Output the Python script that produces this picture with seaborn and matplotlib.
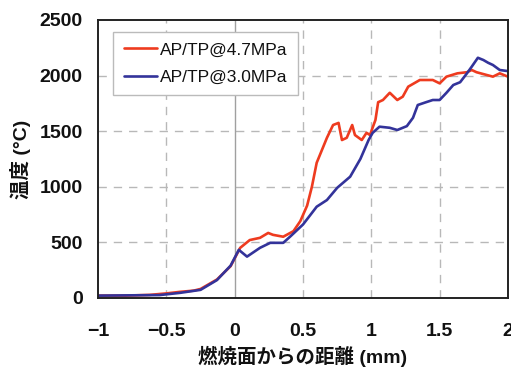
import matplotlib
matplotlib.use("Agg")
import numpy as np
import pandas as pd
import seaborn as sns
import matplotlib.pyplot as plt

# ---- data ----
x_47 = [-1.0, -0.8, -0.62, -0.5, -0.4, -0.3, -0.25, -0.13, -0.03, 0.04, 0.11, 0.185,
        0.245, 0.28, 0.355, 0.43, 0.48, 0.53, 0.565, 0.60, 0.645, 0.675, 0.72, 0.76,
        0.785, 0.82, 0.86, 0.88, 0.93, 0.965, 0.99, 1.03, 1.05, 1.085, 1.135, 1.19,
        1.23, 1.27, 1.355, 1.45, 1.50, 1.55, 1.63, 1.70, 1.735, 1.77, 1.845, 1.89,
        1.94, 2.0]
t_47 = [20, 20, 27, 40, 54, 65, 80, 165, 285, 450, 520, 540,
        584, 567, 550, 600, 690, 830, 1000, 1215, 1350, 1440, 1555, 1574,
        1420, 1440, 1555, 1465, 1420, 1485, 1465, 1600, 1760, 1780, 1845, 1780,
        1810, 1900, 1960, 1960, 1930, 1990, 2020, 2030, 2050, 2030, 2005, 1990,
        2020, 1990]

x_30 = [-1.0, -0.55, -0.4, -0.25, -0.13, -0.03, 0.03, 0.09, 0.185, 0.26, 0.355, 0.405,
        0.50, 0.60, 0.675, 0.75, 0.845, 0.92, 0.98, 1.01, 1.06, 1.135, 1.19, 1.26,
        1.305, 1.34, 1.40, 1.45, 1.50, 1.55, 1.60, 1.65, 1.70, 1.735, 1.78, 1.82,
        1.855, 1.89, 1.94, 2.0]
t_30 = [20, 25, 45, 72, 160, 290, 432, 371, 450, 495, 495, 550,
        660, 820, 880, 990, 1090, 1250, 1420, 1485, 1540, 1530, 1510, 1545,
        1620, 1735, 1760, 1780, 1780, 1845, 1915, 1940, 2020, 2080, 2160, 2140,
        2115, 2095, 2050, 2040]

labels = ["AP/TP@4.7MPa", "AP/TP@3.0MPa"]
x_ticks = [-1, -0.5, 0, 0.5, 1, 1.5, 2]
x_ticklabels = ["\u22121", "\u22120.5", "0", "0.5", "1", "1.5", "2"]
y_ticks = [0, 500, 1000, 1500, 2000, 2500]

df = pd.concat([
    pd.DataFrame({"x": x_47, "T": t_47, "series": labels[0]}),
    pd.DataFrame({"x": x_30, "T": t_30, "series": labels[1]}),
], ignore_index=True)

sns.set_theme(style="white")
plt.rcParams['font.family'] = ['Liberation Sans', 'Noto Sans CJK JP', 'DejaVu Sans']

fig = plt.figure(figsize=(5.11, 3.70), dpi=100)
ax = fig.add_axes([0.192, 0.195, 0.802, 0.751])

palette = {labels[0]: "#ee3b1f", labels[1]: "#33339a"}
sns.lineplot(data=df, x="x", y="T", hue="series", palette=palette, ax=ax,
             linewidth=1.9, sort=False, estimator=None)

ax.set_xlim(-1, 2)
ax.set_ylim(0, 2500)
ax.set_xticks(x_ticks)
ax.set_xticklabels(x_ticklabels)
ax.set_yticks(y_ticks)

# grid
for xv in [-0.5, 0.5, 1, 1.5]:
    ax.axvline(xv, color="#b8b8b8", lw=1.0, ls=(0, (6, 5)), zorder=0)
for yv in [500, 1000, 1500, 2000]:
    ax.axhline(yv, color="#b8b8b8", lw=1.0, ls=(0, (6, 5)), zorder=0)
ax.axvline(0, color="#a0a0a0", lw=1.0, zorder=0)

for s in ax.spines.values():
    s.set_color("#222222")
    s.set_linewidth(1.4)

ax.tick_params(axis="both", length=0, labelsize=14, colors="#111111")
ax.tick_params(axis="x", pad=18)
ax.tick_params(axis="y", pad=11)
for lab in ax.get_xticklabels() + ax.get_yticklabels():
    lab.set_fontweight("bold")

ax.set_xlabel("燃焼面からの距離 (mm)", fontsize=14, fontweight="bold", labelpad=4,
              color="#111111")
ax.set_ylabel("温度 (°C)", fontsize=14, fontweight="bold", labelpad=6, color="#111111")

leg = ax.legend(loc="upper left", bbox_to_anchor=(0.037, 0.957), borderaxespad=0,
                fontsize=12.5, frameon=True, fancybox=False, handlelength=1.9,
                handletextpad=0.2, labelspacing=0.7, borderpad=0.6)
leg.get_frame().set_edgecolor("#bbbbbb")
leg.get_frame().set_linewidth(1.0)
leg.get_frame().set_alpha(1)
for t in leg.get_texts():
    t.set_color("#111111")

fig.savefig("out.png", dpi=100)
